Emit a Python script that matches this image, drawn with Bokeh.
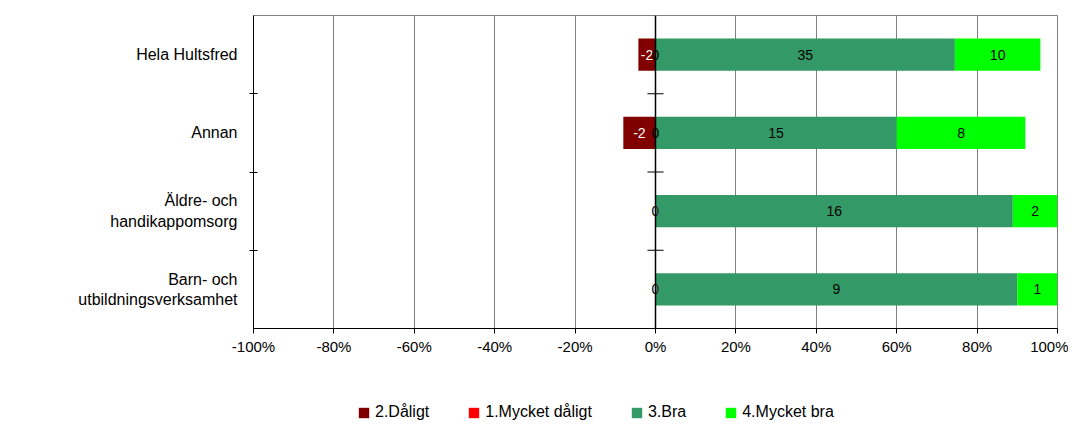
from bokeh.plotting import figure
from bokeh.models import (ColumnDataSource, FixedTicker, Span, Legend, LegendItem)
from bokeh.layouts import column
from bokeh.core.properties import value
from bokeh.embed import file_html
from bokeh.resources import INLINE

# ---- data (top to bottom) ----
categories = ["Hela Hultsfred", "Annan", "Äldre- och\nhandikappomsorg",
              "Barn- och\nutbildningsverksamhet"]
daligt = [-2, -2, 0, 0]          # 2.Dåligt
mycket_daligt = [0, 0, 0, 0]     # 1.Mycket dåligt
bra = [35, 15, 16, 9]            # 3.Bra
mycket_bra = [10, 8, 2, 1]       # 4.Mycket bra
series_names = ["2.Dåligt", "1.Mycket dåligt", "3.Bra", "4.Mycket bra"]
series_colors = ["#800000", "#ff0000", "#339966", "#00ff00"]
x_ticks = [-100, -80, -60, -40, -20, 0, 20, 40, 60, 80, 100]

FONT = "Liberation Sans"
n = len(categories)
ys = [n - 1 - i for i in range(n)]
totals = [abs(a) + abs(b) + c + d for a, b, c, d in zip(daligt, mycket_daligt, bra, mycket_bra)]

d_left = [100.0 * a / t for a, t in zip(daligt, totals)]
md_left = [0.0] * n
md_right = [100.0 * b / t for b, t in zip(mycket_daligt, totals)]
b_right = [100.0 * c / t for c, t in zip(bra, totals)]
mb_right = [br + 100.0 * d / t for br, d, t in zip(b_right, mycket_bra, totals)]

src = ColumnDataSource(dict(
    y=ys,
    d_left=d_left, d_right=[0.0] * n, d_mid=[l / 2 for l in d_left], d_txt=[str(v) for v in daligt],
    md_left=md_left, md_right=md_right, md_mid=[(a + b) / 2 for a, b in zip(md_left, md_right)],
    md_txt=[str(v) for v in mycket_daligt],
    b_left=[0.0] * n, b_right=b_right, b_mid=[r / 2 for r in b_right], b_txt=[str(v) for v in bra],
    mb_left=b_right, mb_right=mb_right, mb_mid=[(a + b) / 2 for a, b in zip(b_right, mb_right)],
    mb_txt=[str(v) for v in mycket_bra],
))

p = figure(width=1068, height=360, frame_width=804, frame_height=313,
           x_range=(-100, 100), y_range=(-0.5, n - 0.5),
           output_backend="svg", toolbar_location=None,
           min_border_left=253, min_border_right=11, min_border_top=15, min_border_bottom=32)
p.outline_line_color = "#808080"
p.background_fill_color = "white"

# grid
p.xgrid.ticker = FixedTicker(ticks=x_ticks)
p.xgrid.grid_line_color = "#808080"
p.xgrid.grid_line_width = 1
p.ygrid.grid_line_color = None

# x axis
p.xaxis.ticker = FixedTicker(ticks=x_ticks)
p.xaxis.major_label_overrides = {t: f"{t}%" for t in x_ticks}
p.xaxis.axis_line_color = "black"
p.xaxis.major_tick_line_color = "black"
p.xaxis.major_tick_in = 0
p.xaxis.major_tick_out = 5
p.xaxis.minor_tick_line_color = None
p.xaxis.major_label_text_font = FONT
p.xaxis.major_label_text_font_size = "15px"
p.xaxis.major_label_text_color = "black"
p.xaxis.major_label_standoff = 4

# y axis
bounds = [y + 0.5 for y in ys[1:]]
p.yaxis.ticker = FixedTicker(ticks=ys, minor_ticks=bounds)
p.yaxis.major_label_overrides = {y: c for y, c in zip(ys, categories)}
p.yaxis.axis_line_color = "black"
p.yaxis.major_tick_line_color = None
p.yaxis.major_tick_in = 0
p.yaxis.major_tick_out = 0
p.yaxis.minor_tick_line_color = "black"
p.yaxis.minor_tick_in = 4
p.yaxis.minor_tick_out = 4
p.yaxis.major_label_text_font = FONT
p.yaxis.major_label_text_font_size = "16px"
p.yaxis.major_label_text_color = "black"
p.yaxis.major_label_standoff = 12

BH = 0.41
p.hbar(y="y", left="d_left", right="d_right", height=BH, source=src,
       fill_color=series_colors[0], line_color=None)
p.hbar(y="y", left="md_left", right="md_right", height=BH, source=src,
       fill_color=series_colors[1], line_color=None)
p.hbar(y="y", left="b_left", right="b_right", height=BH, source=src,
       fill_color=series_colors[2], line_color=None)
p.hbar(y="y", left="mb_left", right="mb_right", height=BH, source=src,
       fill_color=series_colors[3], line_color=None)

# zero line with ticks
p.add_layout(Span(location=0, dimension="height", line_color="black", line_width=1.5))
p.segment(x0=[-2] * len(bounds), x1=[2] * len(bounds), y0=bounds, y1=bounds,
          line_color="black", line_width=1)

# value labels
common = dict(text_font=value(FONT), text_font_size="14px", text_align="center",
              text_baseline="middle", source=src)
p.text(x="d_mid", y="y", text="d_txt", text_color="white", **common)
p.text(x="md_mid", y="y", text="md_txt", text_color="black", **common)
p.text(x="b_mid", y="y", text="b_txt", text_color="black", **common)
p.text(x="mb_mid", y="y", text="mb_txt", text_color="black", **common)

# legend strip (separate figure below the chart); its proxy bars lie outside its range
p2 = figure(width=1068, height=61, frame_width=1068, frame_height=61,
            x_range=(0, 1), y_range=(0, 1), output_backend="svg", toolbar_location=None,
            min_border=0)
p2.xaxis.visible = False
p2.yaxis.visible = False
p2.xgrid.grid_line_color = None
p2.ygrid.grid_line_color = None
p2.outline_line_color = None
items = []
for name, col in zip(series_names, series_colors):
    r = p2.hbar(y=[-5], left=[0], right=[1], height=0.5, fill_color=col, line_color=None)
    items.append(LegendItem(label=name, renderers=[r]))

legend = Legend(items=items, orientation="horizontal", location=(357, 0))
legend.label_text_font = FONT
legend.label_text_font_size = "16px"
legend.label_text_color = "black"
legend.glyph_width = 13
legend.glyph_height = 13
legend.label_standoff = 5
legend.spacing = 38
legend.padding = 0
legend.margin = 0
legend.label_height = 16
legend.border_line_color = None
legend.background_fill_alpha = 0
p2.add_layout(legend)

open("out.html", "w").write(file_html(column(p, p2, spacing=0), INLINE))
